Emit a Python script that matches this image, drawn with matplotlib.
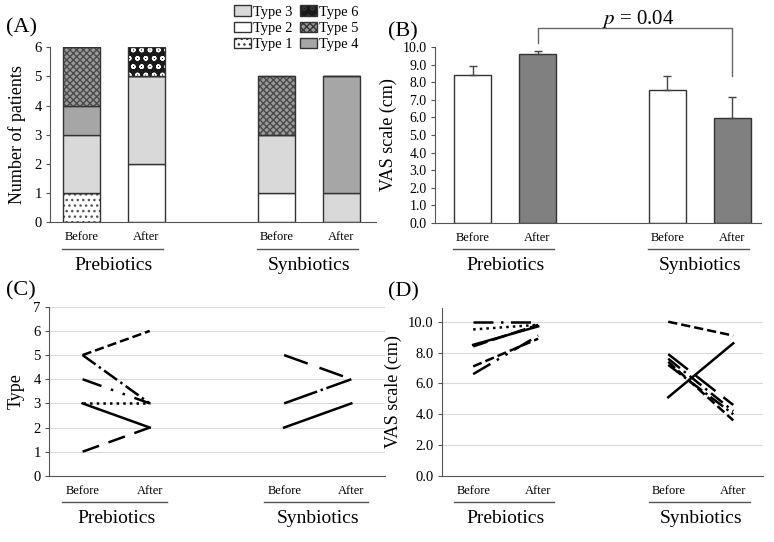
import matplotlib
matplotlib.use('Agg')
import matplotlib.pyplot as plt
from matplotlib import transforms
from matplotlib.patches import Patch

plt.rcParams['font.family'] = ['Liberation Serif', 'DejaVu Serif']
plt.rcParams['mathtext.fontset'] = 'stix'
plt.rcParams['hatch.linewidth'] = 1.0

# x positions: two groups, before/after
positions = [0, 1, 3, 4]
bar_labels = ['Before', 'After', 'Before', 'After']
groups = ['Prebiotics', 'Synbiotics']

# (A) number of patients per stool type
type1 = [1, 0, 0, 0]
type2 = [0, 2, 1, 0]
type3 = [2, 3, 2, 1]
type4 = [1, 0, 0, 4]
type5 = [2, 0, 2, 0]
type6 = [0, 1, 0, 0]

# (B) mean VAS and SD (upper bar only)
vas_mean = [8.4, 9.6, 7.55, 5.95]
vas_err = [0.55, 0.18, 0.8, 1.2]

# (C) individual type, before -> after
pre_type_before = [5, 5, 4, 3, 3, 1]
pre_type_after = [6, 3, 3, 3, 2, 2]
syn_type_before = [5, 3, 2]
syn_type_after = [4, 4, 3]

# (D) individual VAS, before -> after
pre_vas_before = [10.0, 9.5, 8.5, 8.4, 7.1, 6.6]
pre_vas_after = [10.0, 9.8, 9.7, 9.8, 8.9, 9.1]
syn_vas_before = [10.0, 5.1, 7.9, 7.6, 7.4, 7.2]
syn_vas_after = [9.1, 8.6, 4.6, 4.2, 3.6, 4.0]

pre_styles = [(0, (8, 3, 1, 3)), ':', '-', (0, (6, 2)), '--', (0, (8, 3, 1, 3, 1, 3))]
syn_styles = ['--', '-', (0, (10, 4)), (0, (6, 2, 1, 2)), '--', '-.']
pre_type_styles = ['--', '-.', (0, (8, 4, 1, 4, 1, 4)), ':', '-', (0, (7, 4))]
syn_type_styles = [(0, (10, 5)), (0, (14, 1.5, 1, 1.5)), '-']

spine_col = '#555555'


def style_axes(ax):
    for s in ['top', 'right']:
        ax.spines[s].set_visible(False)
    ax.spines['left'].set_color(spine_col)
    ax.spines['bottom'].set_color(spine_col)
    ax.tick_params(axis='x', length=0, labelbottom=False)
    ax.tick_params(axis='y', length=3, color=spine_col, labelsize=10.5, pad=3)


def group_labels(ax, fig):
    base = ax.get_xaxis_transform()
    for x, lab in zip(positions, bar_labels):
        ax.annotate(lab, xy=(x, 0), xycoords=base, xytext=(0, -11),
                    textcoords='offset points', ha='center', va='center',
                    fontsize=9, annotation_clip=False)
    line_tr = transforms.offset_copy(base, fig=fig, y=-19, units='points')
    for i, g in enumerate(groups):
        x0 = positions[2 * i]
        x1 = positions[2 * i + 1]
        ax.plot([x0 - 0.3, x1 + 0.25], [0, 0], color=spine_col, lw=1,
                transform=line_tr, clip_on=False)
        ax.annotate(g, xy=((x0 + x1) / 2, 0), xycoords=base, xytext=(0, -31),
                    textcoords='offset points', ha='center', va='center',
                    fontsize=14, annotation_clip=False)


fig = plt.figure(figsize=(7.74, 5.42), dpi=100)

# ---------- (A)
axA = fig.add_axes([0.0646, 0.590, 0.421, 0.323])
segs = [
    (type1, 'white', '...', '#555555'),
    (type2, 'white', '', None),
    (type3, '#d9d9d9', '', None),
    (type4, '#a6a6a6', '', None),
    (type5, '#9a9a9a', 'xxxxx', '#4a4a4a'),
    (type6, '#1a1a1a', 'oo', 'white'),
]
bottom = [0, 0, 0, 0]
for vals, fc, hatch, hc in segs:
    if hatch:
        axA.bar(positions, vals, width=0.57, bottom=bottom, color=fc,
                hatch=hatch, edgecolor=hc, linewidth=0)
        axA.bar(positions, vals, width=0.57, bottom=bottom, fill=False,
                edgecolor='#333333', linewidth=1)
    else:
        axA.bar(positions, vals, width=0.57, bottom=bottom, color=fc,
                edgecolor='#333333', linewidth=1)
    bottom = [b + v for b, v in zip(bottom, vals)]
axA.set_xlim(-0.485, 4.53)
axA.set_ylim(0, 6)
axA.set_yticks(range(0, 7))
axA.set_ylabel('Number of patients', fontsize=13, labelpad=6)
style_axes(axA)
group_labels(axA, fig)
handles = [
    Patch(facecolor='#d9d9d9', edgecolor='#333333', label='Type 3'),
    Patch(facecolor='white', edgecolor='#333333', label='Type 2'),
    Patch(facecolor='white', edgecolor='#333333', hatch='...', label='Type 1'),
    Patch(facecolor='#1a1a1a', edgecolor='#333333', hatch='oo', label='Type 6'),
    Patch(facecolor='#9a9a9a', edgecolor='#333333', hatch='xxxxx', label='Type 5'),
    Patch(facecolor='#a6a6a6', edgecolor='#333333', label='Type 4'),
]
axA.legend(handles=handles, ncol=2, loc='upper right', bbox_to_anchor=(0.97, 1.28),
           frameon=False, fontsize=10.4, handlelength=1.2, handleheight=0.75,
           handletextpad=0.15, labelspacing=0.2, columnspacing=0.5, borderpad=0)
fig.text(0.008, 0.948, '(A)', fontsize=16, va='center')

# ---------- (B)
axB = fig.add_axes([0.562, 0.589, 0.421, 0.324])
axB.bar(positions, vas_mean, width=0.57, color=['white', '#808080', 'white', '#808080'],
        edgecolor='#333333', linewidth=1)
axB.errorbar(positions, vas_mean, yerr=[[0] * 4, vas_err], fmt='none',
             ecolor='#444444', elinewidth=1, capsize=3)
axB.set_xlim(-0.58, 4.44)
axB.set_ylim(0, 10)
axB.set_yticks(range(0, 11))
axB.set_yticklabels([f'{v:.1f}' for v in range(0, 11)])
axB.set_ylabel('VAS scale (cm)', fontsize=13, labelpad=4)
style_axes(axB)
axB.tick_params(axis='y', labelsize=10)
group_labels(axB, fig)
axB.plot([positions[1], positions[1], positions[3], positions[3]],
         [10.23, 11.08, 11.08, 8.35], color='#666666', lw=1, clip_on=False)
axB.text(2.55, 11.6, r'$p$ = 0.04', fontsize=15, ha='center', va='center')
fig.text(0.501, 0.942, '(B)', fontsize=16, va='center')

# ---------- (C)
axC = fig.add_axes([0.0633, 0.122, 0.434, 0.312])
for b, a, ls in zip(pre_type_before, pre_type_after, pre_type_styles):
    axC.plot(positions[:2], [b, a], color='black', lw=1.8, linestyle=ls)
for b, a, ls in zip(syn_type_before, syn_type_after, syn_type_styles):
    axC.plot(positions[2:], [b, a], color='black', lw=1.8, linestyle=ls)
axC.set_xlim(-0.5, 4.5)
axC.set_ylim(0, 7)
axC.set_yticks(range(0, 8))
axC.yaxis.grid(True, color='#d9d9d9', lw=0.8)
axC.set_axisbelow(True)
axC.set_ylabel('Type', fontsize=13, labelpad=6)
style_axes(axC)
group_labels(axC, fig)
fig.text(0.008, 0.463, '(C)', fontsize=16, va='center')

# ---------- (D)
axD = fig.add_axes([0.571, 0.122, 0.415, 0.310])
for b, a, ls in zip(pre_vas_before, pre_vas_after, pre_styles):
    axD.plot(positions[:2], [b, a], color='black', lw=1.8, linestyle=ls)
for b, a, ls in zip(syn_vas_before, syn_vas_after, syn_styles):
    axD.plot(positions[2:], [b, a], color='black', lw=1.8, linestyle=ls)
axD.set_xlim(-0.48, 4.46)
axD.set_ylim(0, 10.9)
axD.set_yticks(range(0, 11, 2))
axD.set_yticklabels([f'{v:.1f}' for v in range(0, 11, 2)])
axD.yaxis.grid(True, color='#d9d9d9', lw=0.8)
axD.set_axisbelow(True)
axD.set_ylabel('VAS scale (cm)', fontsize=13, labelpad=4)
style_axes(axD)
group_labels(axD, fig)
fig.text(0.501, 0.461, '(D)', fontsize=16, va='center')

fig.savefig('out.png', dpi=100)
